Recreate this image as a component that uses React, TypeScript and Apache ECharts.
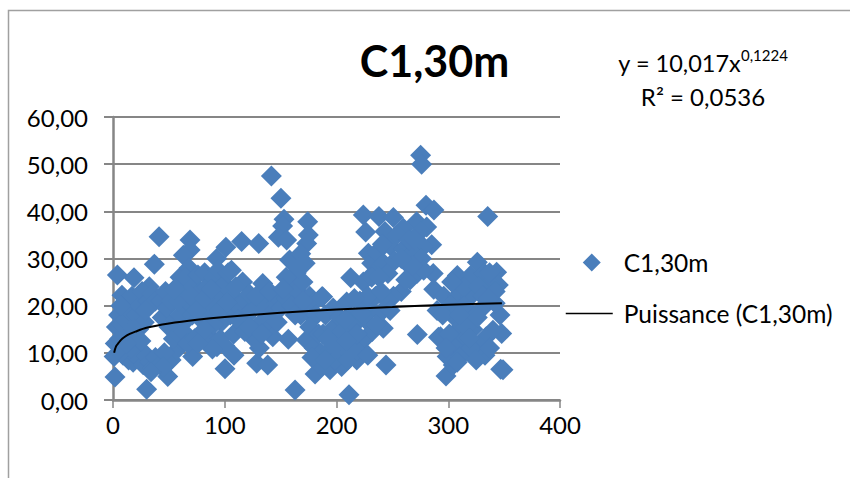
import React, { useEffect, useRef } from "react";
import * as echarts from "echarts";

const titleText = "C1,30m";
const seriesName = "C1,30m";
const trendName = "Puissance (C1,30m)";

const outliers = [
  [141.7,47.5],[150.3,42.8],[153,38.3],[151.8,36.9],[174.2,37.8],[174.8,35],[173.3,33.2],[148,34.5],[155.4,33.9],
  [41.2,34.6],[68.9,33.9],[69,31.8],[63,30.7],[101,32.4],[115.1,33.6],[130.4,33.2],[92.8,30],[37,28.8],[3.9,26.5],
  [18.8,25.9],[32.5,24],[8,22.2],[1.8,4.9],[30.1,2.3],[162.9,2.1],[49,5],[100.2,6.6],[108.3,9.5],[71.3,9.2],
  [128.6,7.8],[138.4,7.4],[156.9,12.9],[180.8,5.5],[1,9.2],
  [275.3,51.9],[276.2,50],[280.1,41.3],[287.2,40.3],[335.3,38.9],[224,39.2],[238,38.9],[250.9,38.7],[226.1,35.6],
  [243.4,35.7],[271.7,37.8],[280.7,36.7],[259.8,36.4],[285.2,32.9],[277.7,32.5],[228.5,31.1],[231.5,29],[326,29.2],
  [286.6,26.8],[308.1,26.4],[343.3,27.1],[212.7,25.9],[187.6,21.9],[344.8,24.4],[209.1,20.8],[241.9,15.2],[272.3,13.9],
  [346.3,18],[347.8,14.1],[291.2,13.3],[244.3,7.4],[218.1,8.5],[211.2,1.1],[298,5.1],[346.9,6.5],[349,6.4],
  [332.9,9.5],[304.5,7.4],[194.2,6.4],[204.6,7.1],
];

const leftCluster = [
  [3,15.5],[5,18],[2,12],[6,13],[8,16],[10,20],[11,17],[13,14],[15,19],[9,9.5],[14,8.5],[18,8],[20,11],[17,22],
  [21,18],[23,15],[24,20],[26,23],[22,9],[27,7.5],[30,9.5],[28,16.5],[31,21],[35,22.5],[38,21],[33,8],[36,6.8],
  [38,9],[42,7.5],[43,21],[44,17.5],[48,19.5],[52,8.5],[57,10.6],[61,12.7],[46,10],[16,11],[25,12.5],[7,20],
  [50,15.5],[54,13],[47,23],[52,21],[12,12],[19,15],[45,7],[34,6],[29,19],[56,17],[58,14],
];

const middleCluster = [
  [60,26],[62,23],[64,20],[66,17],[63,14.5],[67,12],[60,18],[58,21],[55,23.5],[68,28],[65,26],
  [72,24],[74,21],[71,18],[76,26.5],[78,23],[80,19.5],[77,17.5],[79,13.5],[73,13],[82,27],[84,24],[86,21],
  [84,17],[86,13.5],[90,26],[92,23],[94,27.5],[88,19],[93,11.3],[97,16.5],[98,21],[100,24.5],[103,27],[106,27.5],
  [107,22],[105,18],[108,14],[112,20],[116,25],[118,21],[120,18],[115,16.5],[96,13],[124,19],[128,15.5],
  [131,11],[126,13],[134,24.7],[137,20.5],[135,17],[139,15],[143,13.4],[142,19.5],[146,22],[150,19.5],
  [155,21.5],[158,29.7],[164,26.9],[172,29],[161,24],[168,31],[165,23],[155,26],[170,25],[176,22],[179,20.5],
  [187,21.9],[160,20],[168,18],[175,18.5],[122,22.5],[147,16.5],
  [70,22],[75,19],[82,21.5],[88,23.5],[90,16],[95,19],[102,20.5],[110,24],[112,17],[118,14.5],[122,15.5],[130,20],
  [133,14],[128,22],[140,23],[152,23.5],[163,18],[170,21],[182,18],[166,28],[100,11.5],[89,10.8],[82,15],[76,12],
];

const lowerCluster = [
  [173,12.7],[176,15.5],[180,11],[184,14],[188,14],[190,18],[186,10],[194,10.6],[197,19.5],[196,15],[201,13],
  [203,17.5],[207,10.6],[205,14.5],[199,8.5],[212,18],[214,13],[216,16],[210,8.5],[221,21],[224,12.7],[226,17],
  [219,10.5],[230,19],[232,14.5],[235,22],[239,18.4],[224,25],[233,26.8],[228,9.5],[185,7.5],
  [178,9],[192,13],[190,8.5],[200,11],[208,17],[213,10.5],[218,14],[222,18.5],[228,22],[236,16],[216,21.5],[209,12.5],
];

const upperCluster = [
  [236,31.3],[248,32.7],[260,32],[254,35],[275,35.7],[242,29],[263,29],[272,26.8],[266,25.5],[258,23],[251,22],
  [245,21.2],[231.5,26],[246,26.8],[268,31],[276,30],[238,26],[262,25.5],[265,34],[252,29.5],[270,34],
  [278,27.5],[248,19],[268,28.5],[240,23],[258,30],[241,33],
];

const rightCluster = [
  [287,23.5],[296,22],[308,22],[320,22],[320,26.4],[332,27],[338,24.7],[329,24],[314,24],[302,20],[290,19],
  [305,17.7],[311,15.5],[320,18.4],[332,19.8],[342,20.5],[340,14.8],[334,13.4],[328,11.3],[313,12.7],[305,11.3],
  [299,9.2],[311,9.2],[320,11],[337,11],[293,13.4],[301,14],[322,15],[327,24],[314,20],[342,23],[337,27],[326,17.5],
  [295,18],[308,8],[316,15.5],[325,8.5],[331,22],[303,25],[310,18],[319,13],[336,21.5],[298,11],
];

const trendPoints = [
  [1,10.0],[1.5,10.5],[2,10.9],[3,11.5],[5,12.1],[7,12.7],[10,13.3],[15,14.0],[20,14.5],[30,15.3],[50,16.2],[75,17.0],
  [100,17.6],[150,18.5],[200,19.2],[250,19.7],[300,20.2],[348,20.5],
];

const scatterData = [...outliers, ...leftCluster, ...middleCluster, ...lowerCluster, ...upperCluster, ...rightCluster];

const FONT = "Lato";
const GRAY = "#868686";
const LEGEND_DIAMOND = "path://M0 0L0 0M47 18L47 18M26 0L35 9L26 18L17 9Z";

export default function App() {
  const ref = useRef<HTMLDivElement>(null);
  useEffect(() => {
    document.body.style.margin = "0";
    const chart = echarts.init(ref.current!, null, { renderer: "svg" });
    chart.setOption({
      animation: false,
      backgroundColor: "#ffffff",
      textStyle: { fontFamily: FONT, color: "#000" },
      title: {
        text: titleText,
        left: 429.5,
        top: 34,
        textAlign: "center",
        textStyle: { fontFamily: FONT, fontSize: 43, fontWeight: "bold", color: "#000" },
      },
      grid: { left: 113, right: 290, top: 117, bottom: 78 },
      legend: {
        orient: "vertical",
        left: 565,
        top: 250,
        padding: 0,
        itemWidth: 47,
        itemHeight: 18,
        itemGap: 26,
        symbolKeepAspect: false,
        textStyle: { fontFamily: FONT, fontSize: 24.5, color: "#000", padding: [0, 0, 0, 6] },
        data: [
          { name: seriesName, icon: LEGEND_DIAMOND },
          { name: trendName, itemStyle: { opacity: 0 }, lineStyle: { color: "#000", width: 1.5 } },
        ],
      },
      xAxis: {
        type: "value",
        min: 0,
        max: 400,
        interval: 100,
        splitLine: { show: false },
        axisLine: { show: true, onZero: false, lineStyle: { color: GRAY, width: 2.5 } },
        axisTick: { show: true, length: 8, lineStyle: { color: GRAY, width: 1.5 } },
        axisLabel: { fontFamily: FONT, fontSize: 24, color: "#000", margin: 12 },
      },
      yAxis: {
        type: "value",
        min: 0,
        max: 60,
        interval: 10,
        splitLine: { show: true, lineStyle: { color: GRAY, width: 2 } },
        axisLine: { show: true, onZero: false, lineStyle: { color: GRAY, width: 2.5 } },
        axisTick: { show: true, length: 9, lineStyle: { color: GRAY, width: 2 } },
        axisLabel: {
          fontFamily: FONT,
          fontSize: 24,
          color: "#000",
          margin: 25,
          formatter: (v: number) => v.toFixed(2).replace(".", ","),
        },
      },
      series: [
        {
          name: seriesName,
          type: "scatter",
          symbol: "diamond",
          symbolSize: 21,
          itemStyle: { color: "#4a7ebb", opacity: 1 },
          data: scatterData,
        },
        {
          name: trendName,
          type: "line",
          symbol: "none",
          showSymbol: false,
          smooth: 0.3,
          lineStyle: { color: "#000", width: 2 },
          itemStyle: { color: "#000" },
          data: trendPoints,
        },
      ],
      graphic: [
        {
          type: "polyline",
          silent: true,
          shape: { points: [[8.5, 478], [8.5, 10.5], [850, 10.5]] },
          style: { stroke: "#a0a0a0", lineWidth: 1.5, fill: "none" },
        },
        {
          type: "text",
          x: 703,
          y: 47,
          style: {
            text: "{a|y = 10,017x}{b|0,1224}",
            align: "center",
            verticalAlign: "top",
            rich: {
              a: { fontFamily: FONT, fontSize: 23.5, fill: "#000", lineHeight: 28, verticalAlign: "bottom" },
              b: { fontFamily: FONT, fontSize: 15, fill: "#000", lineHeight: 26, verticalAlign: "top" },
            },
          },
        },
        {
          type: "text",
          x: 703,
          y: 84,
          style: { text: "R² = 0,0536", align: "center", verticalAlign: "top", fontFamily: FONT, fontSize: 24, fill: "#000" },
        },
      ],
    });
    return () => chart.dispose();
  }, []);
  return <div ref={ref} style={{ width: 850, height: 478 }} />;
}
